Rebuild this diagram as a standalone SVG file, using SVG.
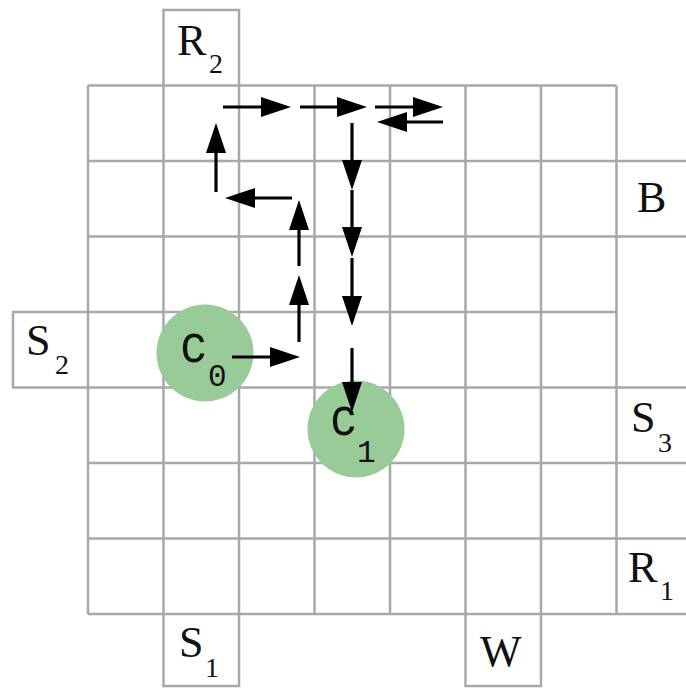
<svg xmlns="http://www.w3.org/2000/svg" width="686" height="688" viewBox="0 0 686 688">
<style>
.g{stroke:#a8a8a8;stroke-width:2.5;fill:none}
.lab{font-family:"Liberation Serif",serif;font-size:44px;fill:#111}
.sub{font-family:"Liberation Serif",serif;font-size:28px;fill:#111}
.cl{font-family:"Liberation Mono",monospace;font-size:46px;fill:#111}
.cs{font-family:"Liberation Mono",monospace;font-size:31px;fill:#111}
.ar{stroke:#000;stroke-width:3.2;fill:none;marker-end:url(#ah)}
.node{fill:#98cb98}
</style>
<defs>
<marker id="ah" markerUnits="userSpaceOnUse" markerWidth="30" markerHeight="20" refX="22" refY="10" orient="auto">
<path d="M0,0 L30,10 L0,20 z" fill="#000"/>
</marker>
</defs>
<rect width="686" height="688" fill="#fff"/>
<g id="grid" class="g">
<path d="M88,85.5V614M163.5,85.5V614M239,85.5V614M314.5,85.5V614M390,85.5V614M465.5,85.5V614M541,85.5V614M616.5,85.5V614"/>
<path d="M88,85.5H616.5M88,161H686M88,236.5H686M88,312H616.5M88,387.5H686M88,463H686M88,538.5H686M88,614H686"/>
<path d="M163.5,85.5V10H239V85.5"/>
<path d="M88,312H13V387.5H88"/>
<path d="M163.5,614V686H239V614"/>
<path d="M465.5,614V686H541V614"/>
</g>
<g id="R2"><text class="lab" x="177" y="55">R</text><text class="sub" x="209" y="73">2</text></g>
<g id="S2"><text class="lab" x="26" y="355">S</text><text class="sub" x="55" y="374">2</text></g>
<g id="B"><text class="lab" x="637" y="212">B</text></g>
<g id="S3"><text class="lab" x="631" y="432">S</text><text class="sub" x="658" y="452">3</text></g>
<g id="R1"><text class="lab" x="628" y="582">R</text><text class="sub" x="660" y="600">1</text></g>
<g id="S1"><text class="lab" x="179" y="657">S</text><text class="sub" x="205" y="677">1</text></g>
<g id="W"><text class="lab" x="480" y="666">W</text></g>
<g id="c0"><circle class="node" cx="205" cy="353" r="48.5"/><text class="cl" x="180" y="362" transform="translate(0,-54) scale(1,1.15)">c</text><text class="cs" x="208" y="386">0</text></g>
<g id="c1"><circle class="node" cx="356" cy="429" r="48.5"/><text class="cl" x="330" y="435" transform="translate(0,-65) scale(1,1.15)">c</text><text class="cs" x="357" y="462">1</text></g>
<g id="connectors">
<line class="ar" x1="223" y1="107" x2="283" y2="107"/>
<line class="ar" x1="300" y1="107" x2="359" y2="107"/>
<line class="ar" x1="375" y1="107" x2="435" y2="107"/>
<line class="ar" x1="443" y1="122" x2="385" y2="122"/>
<line class="ar" x1="352" y1="123" x2="352" y2="182"/>
<line class="ar" x1="352" y1="190" x2="352" y2="249"/>
<line class="ar" x1="352" y1="258" x2="352" y2="318"/>
<line class="ar" x1="352" y1="348" x2="352" y2="404"/>
<line class="ar" x1="216" y1="192" x2="216" y2="131"/>
<line class="ar" x1="292" y1="198" x2="233" y2="198"/>
<line class="ar" x1="299" y1="266" x2="299" y2="208"/>
<line class="ar" x1="299" y1="342" x2="299" y2="283"/>
<line class="ar" x1="232" y1="357" x2="292" y2="357"/>
</g>
</svg>
